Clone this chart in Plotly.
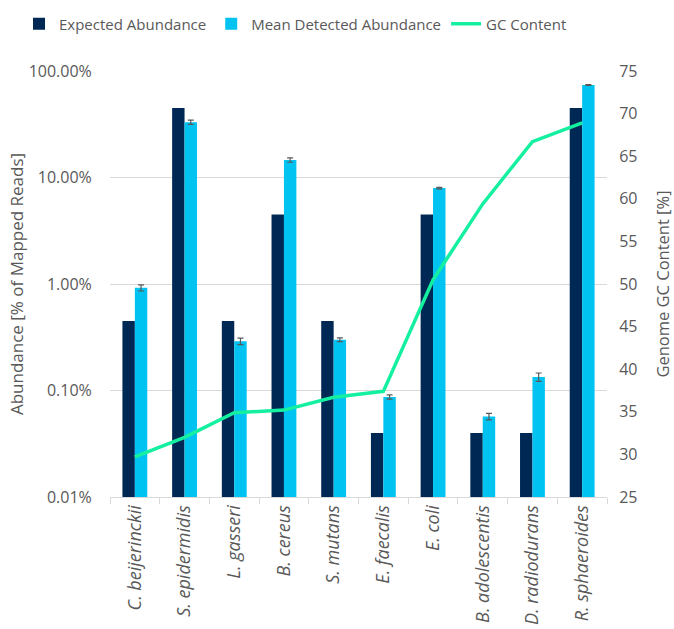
import plotly.graph_objects as go

species = ["C. beijerinckii", "S. epidermidis", "L. gasseri", "B. cereus", "S. mutans",
           "E. faecalis", "E. coli", "B. adolescentis", "D. radiodurans", "R. sphaeroides"]
expected = [0.45, 45, 0.45, 4.5, 0.45, 0.04, 4.5, 0.04, 0.04, 45]
detected = [0.92, 33, 0.29, 14.6, 0.30, 0.087, 7.95, 0.057, 0.134, 74]
detected_err = [0.06, 1.5, 0.02, 0.7, 0.012, 0.004, 0.12, 0.004, 0.012, 0.6]
gc_content = [29.7, 32.0, 34.9, 35.2, 36.7, 37.4, 50.5, 59.4, 66.7, 68.9]

left_tickvals = [0.01, 0.1, 1, 10, 100]
left_ticktext = ["0.01%", "0.10%", "1.00%", "10.00%", "100.00%"]

navy = "#002855"
cyan = "#00C3F1"
green = "#14F0A0"
grey_text = "#595959"

fig = go.Figure()
fig.add_trace(go.Bar(x=species, y=expected, name="Expected Abundance",
                     marker=dict(color=navy, line=dict(width=0))))
fig.add_trace(go.Bar(x=species, y=detected, name="Mean Detected Abundance",
                     marker=dict(color=cyan, line=dict(width=0)),
                     error_y=dict(type="data", array=detected_err, visible=True,
                                  color="#595959", thickness=1.2, width=3)))
fig.add_trace(go.Scatter(x=species, y=gc_content, name="GC Content", yaxis="y2",
                         mode="lines", line=dict(color=green, width=3.5)))

font_family = "'Open Sans', Lato, sans-serif"
plot_l, plot_w, plot_h = 110, 674 - 110 - 67, 629 - 71 - 132
fig.update_layout(
    width=674, height=629,
    margin=dict(l=110, r=67, t=71, b=132, autoexpand=False),
    paper_bgcolor="white", plot_bgcolor="white",
    font=dict(family=font_family, color=grey_text, size=15),
    barmode="group", bargap=0.5, bargroupgap=0,
    showlegend=True,
    legend=dict(orientation="h", xref="paper", yref="paper",
                x=(19 - plot_l) / plot_w, xanchor="left", y=1 + 47 / plot_h, yanchor="middle",
                font=dict(size=15, color=grey_text),
                traceorder="normal"),
    xaxis=dict(
        tickmode="array", tickvals=species,
        ticktext=["<i>" + s + "</i>" for s in species],
        tickangle=-90, tickson="boundaries",
        ticks="outside", ticklen=6, tickcolor="#d9d9d9",
        showline=True, linecolor="#d9d9d9", linewidth=1,
        showgrid=False, tickfont=dict(size=18, color=grey_text),
    ),
    yaxis=dict(
        type="log", range=[-2, 2],
        tickmode="array", tickvals=left_tickvals, ticktext=left_ticktext,
        showgrid=True, gridcolor="#d9d9d9", gridwidth=1,
        zeroline=False, showline=False,
        ticks="outside", ticklen=14, tickcolor="rgba(0,0,0,0)",
        title=dict(text="Abundance [% of Mapped Reads]", font=dict(size=17, color=grey_text), standoff=0),
        tickfont=dict(size=16, color=grey_text),
    ),
    yaxis2=dict(
        overlaying="y", side="right", range=[25, 75], dtick=5, tick0=25,
        showgrid=False, zeroline=False, showline=False,
        ticks="outside", ticklen=8, tickcolor="rgba(0,0,0,0)",
        title=dict(text="Genome GC Content [%]", font=dict(size=16.5, color=grey_text), standoff=20),
        tickfont=dict(size=16, color=grey_text),
    ),
)

fig.write_html("out.html")
